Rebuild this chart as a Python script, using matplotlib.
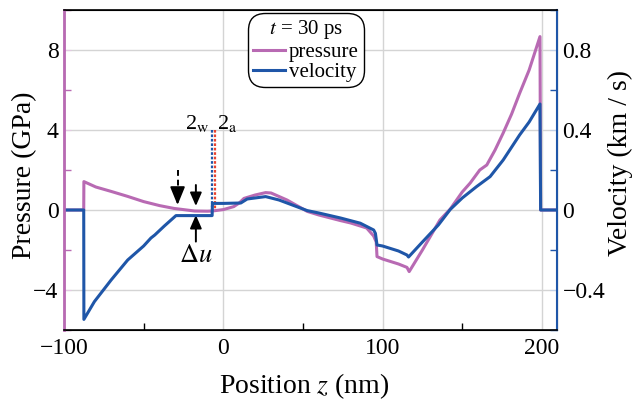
import matplotlib
matplotlib.use("Agg")
import matplotlib.pyplot as plt
from matplotlib.lines import Line2D
from matplotlib.ticker import MultipleLocator

# font setup (Times-like)
plt.rcParams['font.family'] = ['Liberation Serif', 'DejaVu Serif']
plt.rcParams['mathtext.fontset'] = 'stix'

# pressure profile (GPa) vs position (nm)
z_p = [-100, -87.6, -87.5, -80, -70, -60, -50, -40, -31, -25, -18, -10, -7, -5, 0,
       6.6, 10, 13, 20, 26.6, 30, 40, 52.7, 60, 73.6, 80, 90, 94.4, 96, 96.5,
       100, 110, 115.3, 116.7, 125, 136, 142.5, 150, 155, 161, 165.4, 170.6,
       175.7, 181, 186, 192, 198.8, 199.2, 210]
pressure = [0, 0, 1.42, 1.15, 0.92, 0.68, 0.42, 0.22, 0.08, 0.02, -0.05, -0.06, -0.05, -0.03, 0.02,
            0.17, 0.35, 0.58, 0.75, 0.87, 0.85, 0.5, -0.07, -0.25, -0.53, -0.65, -0.9, -1.3, -1.6, -2.33,
            -2.45, -2.7, -2.87, -3.08, -2.0, -0.5, 0.05, 0.9, 1.35, 2.0, 2.25, 3.0,
            3.85, 4.8, 5.83, 7.0, 8.67, 0.0, 0.0]

# velocity profile (km/s) vs position (nm)
z_v = [-100, -87.6, -87.5, -80.9, -70.4, -60, -50, -45.4, -43, -37, -29.7, -20, -7, -6.8, 0,
       11, 15, 26.6, 35, 52.7, 60, 73.6, 86, 94.4, 95.5, 96.5, 100, 110, 115.3, 116.3,
       125, 135, 142.5, 150, 159, 167.5, 175.7, 186, 192, 198.8, 199.2, 210]
velocity = [0, 0, -0.547, -0.458, -0.35, -0.25, -0.18, -0.14, -0.125, -0.08, -0.028, -0.028, -0.028, 0.033, 0.033,
            0.035, 0.055, 0.067, 0.05, -0.003, -0.015, -0.04, -0.066, -0.1, -0.117, -0.175, -0.18, -0.205, -0.225, -0.235,
            -0.16, -0.075, 0.003, 0.06, 0.117, 0.167, 0.25, 0.375, 0.44, 0.53, 0.0, 0.0]

# interface markers
z_water = -7.2
z_air = -5.5

pink = '#b86ab3'
blue = '#1f56a8'
grid_c = '#d4d4d4'

fig = plt.figure(figsize=(6.41, 4.0), dpi=100)
ax = fig.add_axes([0.0998, 0.175, 0.7692, 0.80])
ax2 = ax.twinx()

ax.plot(z_p, pressure, color=pink, lw=2.2, solid_joinstyle='round')
ax2.plot(z_v, velocity, color=blue, lw=2.2, solid_joinstyle='round')

ax.set_xlim(-100, 209.5)
ax.set_ylim(-6, 10)
ax2.set_ylim(-0.6, 1.0)

ax.set_xticks([-100, 0, 100, 200])
ax.set_xticklabels(['\u2212100', '0', '100', '200'])
ax.xaxis.set_minor_locator(MultipleLocator(50))
ax.set_yticks([-4, 0, 4, 8])
ax.set_yticklabels(['\u22124', '0', '4', '8'])
ax.yaxis.set_minor_locator(MultipleLocator(2))
ax2.set_yticks([-0.4, 0, 0.4, 0.8])
ax2.set_yticklabels(['\u22120.4', '0', '0.4', '0.8'])
ax2.yaxis.set_minor_locator(MultipleLocator(0.2))

ax.grid(True, color=grid_c, lw=1)
ax.set_axisbelow(True)

ax.tick_params(axis='x', which='major', direction='in', length=5, color=grid_c, labelsize=17, pad=6)
ax.tick_params(axis='x', which='minor', direction='in', length=5, color='black', width=1)
ax.tick_params(axis='y', which='major', direction='in', length=5, color='#e3c8e2', labelsize=17, pad=4)
ax.tick_params(axis='y', which='minor', direction='in', length=5, color=pink, width=1)
ax2.tick_params(axis='y', which='major', direction='in', length=5, color='#c2d0e6', labelsize=17, pad=4)
ax2.tick_params(axis='y', which='minor', direction='in', length=5, color=blue, width=1)

for sp in ['top', 'bottom']:
    ax2.spines[sp].set_color('black')
    ax2.spines[sp].set_linewidth(1.2)
ax2.spines['left'].set_color(pink)
ax2.spines['left'].set_linewidth(2)
ax2.spines['right'].set_color(blue)
ax2.spines['right'].set_linewidth(1.5)

ax.set_xlabel('Position $z$ (nm)', fontsize=20)
ax.set_ylabel('Pressure (GPa)', fontsize=20)
ax2.set_ylabel('Velocity (km / s)', fontsize=20)
ax.xaxis.set_label_coords(0.487, -0.13)
ax.yaxis.set_label_coords(-0.055, 0.484)
ax2.yaxis.set_label_coords(1.103, 0.523)

# interface lines and labels
ax.plot([z_water, z_water], [4.0, 0.15], color=blue, lw=1.6, ls=(0, (1.2, 0.8)), zorder=5)
ax.plot([z_air, z_air], [4.0, 0.0], color='#e8432f', lw=1.6, ls=(0, (1.2, 0.8)), zorder=5)
ax.text(z_water - 1.5, 4.05, '2$_{\\mathrm{w}}$', fontsize=16, ha='right', va='baseline')
ax.text(z_air + 1.5, 4.05, '2$_{\\mathrm{a}}$', fontsize=16, ha='left', va='baseline')

# arrows
ax.plot([-28.7, -28.7], [2.0, 0.9], color='black', lw=1.4, ls=(0, (3, 2)))
ax.annotate('', xy=(-28.7, 0.25), xytext=(-28.7, 1.0),
            arrowprops=dict(arrowstyle='-|>,head_width=0.45,head_length=1.1', color='black', lw=1.4,
                            shrinkA=0, shrinkB=0))
ax.annotate('', xy=(-17.2, 0.2), xytext=(-17.2, 1.25),
            arrowprops=dict(arrowstyle='-|>,head_width=0.35,head_length=0.8', color='black', lw=1.4,
                            shrinkA=0, shrinkB=0))
ax.annotate('', xy=(-17.2, -0.25), xytext=(-17.2, -1.58),
            arrowprops=dict(arrowstyle='-|>,head_width=0.35,head_length=0.8', color='black', lw=1.4,
                            shrinkA=0, shrinkB=0))
ax.text(-17.2, -2.3, '$\\Delta u$', fontsize=19, ha='center', va='center')

handles = [Line2D([], [], color=pink, lw=2.2), Line2D([], [], color=blue, lw=2.2)]
leg = ax2.legend(handles, ['pressure', 'velocity'], title='$t$ = 30 ps', loc='upper center',
                 bbox_to_anchor=(0.491, 0.982), fontsize=15, title_fontsize=15,
                 handlelength=1.5, handletextpad=0.2, borderpad=0.12, labelspacing=0.0,
                 borderaxespad=0, frameon=True, fancybox=True, framealpha=1)
leg.get_frame().set_edgecolor('black')
leg.get_frame().set_linewidth(1)
leg.get_frame().set_boxstyle('round,pad=0.12,rounding_size=0.8')
leg._legend_box.sep = 1

fig.savefig('out.png', dpi=100)
